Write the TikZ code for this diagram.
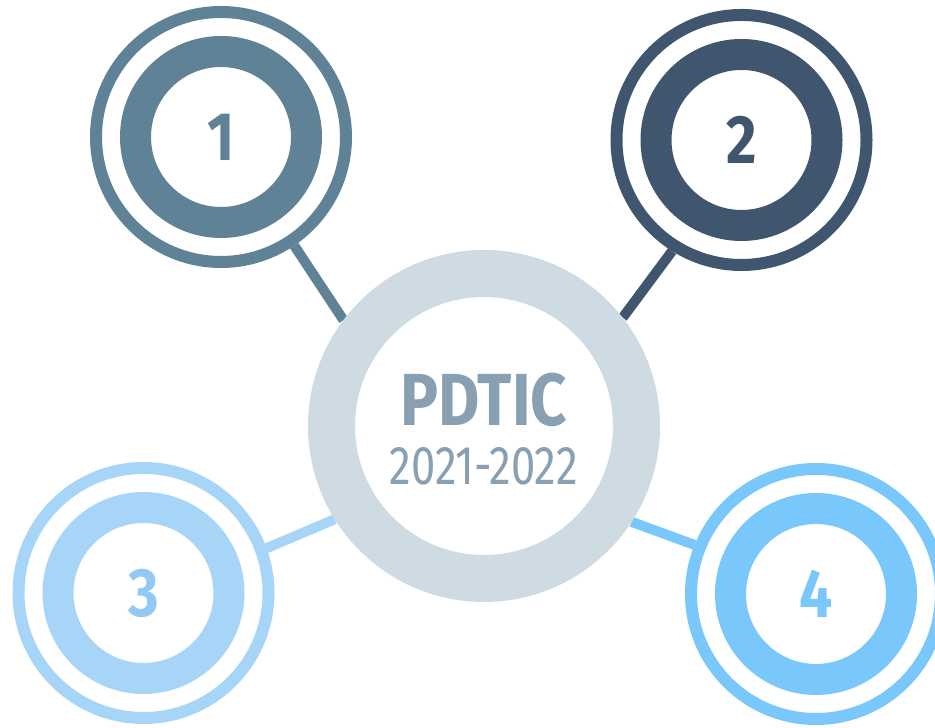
\documentclass[tikz,border=0pt]{standalone}
\usepackage{fontspec}
\setmainfont{Fira Sans}
\newfontfamily\condfont[FakeStretch=0.86]{Fira Sans}
\newfontfamily\aniofont[FakeStretch=0.80]{Fira Sans}
\usepackage{xcolor}
\usetikzlibrary{positioning, backgrounds}
\definecolor{azulUno}{HTML}{5F8296}
\definecolor{azulDos}{HTML}{3F566E}
\definecolor{azulTres}{HTML}{A7D5F8}
\definecolor{digTres}{HTML}{93CAF4}
\definecolor{azulCuatro}{HTML}{7AC7FC}
\definecolor{grisAro}{HTML}{CFDBE2}
\definecolor{grisTexto}{HTML}{88A0B2}
\tikzset{
  aro/.style={circle, draw, minimum size=5cm, inner sep=0pt, line width=0.24cm},
  nucleo/.style={circle, draw, minimum size=3.42cm, inner sep=0pt, line width=0.62cm,
    font=\condfont\bfseries\fontsize{39}{40}\selectfont},
  enlace/.style={line width=0.2cm},
}
\begin{document}
\begin{tikzpicture}
    \useasboundingbox (0,0) rectangle (18.7,14.56);
    % Círculo central
    \node[circle, draw=grisAro, line width=0.94cm, minimum size=6.1cm, inner sep=0pt] (ctr) at (9.68,6.04) {};
    \node[text=grisTexto, font=\condfont\bfseries\fontsize{42}{44}\selectfont] (titulo) at (9.68,6.57) {PDTIC};
    \node[text=grisTexto, font=\aniofont\fontsize{31}{32}\selectfont] (anio) at (9.68,5.24) {2021-2022};
    % Círculos numerados
    \node[aro, draw=azulUno] (n1) at (4.42,11.82) {};
    \node[nucleo, draw=azulUno, text=azulUno] (d1) at (n1) {1};
    \node[aro, draw=azulDos] (n2) at (14.83,11.76) {};
    \node[nucleo, draw=azulDos, text=azulDos] (d2) at (n2) {2};
    \node[aro, draw=azulTres] (n3) at (2.87,2.70) {};
    \node[nucleo, draw=azulTres, text=digTres] (d3) at (n3) {3};
    \node[aro, draw=azulCuatro] (n4) at (16.32,2.68) {};
    \node[nucleo, draw=azulCuatro, text=azulCuatro] (d4) at (n4) {4};
    % Líneas de unión
    \begin{pgfonlayer}{background}
        \draw[enlace, azulUno] (n1.-56) -- (ctr.143);
        \draw[enlace, azulDos] (n2.238) -- (ctr.38);
        \draw[enlace, azulTres] (n3.20) -- (ctr.212);
        \draw[enlace, azulCuatro] (n4.158) -- (ctr.327);
    \end{pgfonlayer}
\end{tikzpicture}
\end{document}
